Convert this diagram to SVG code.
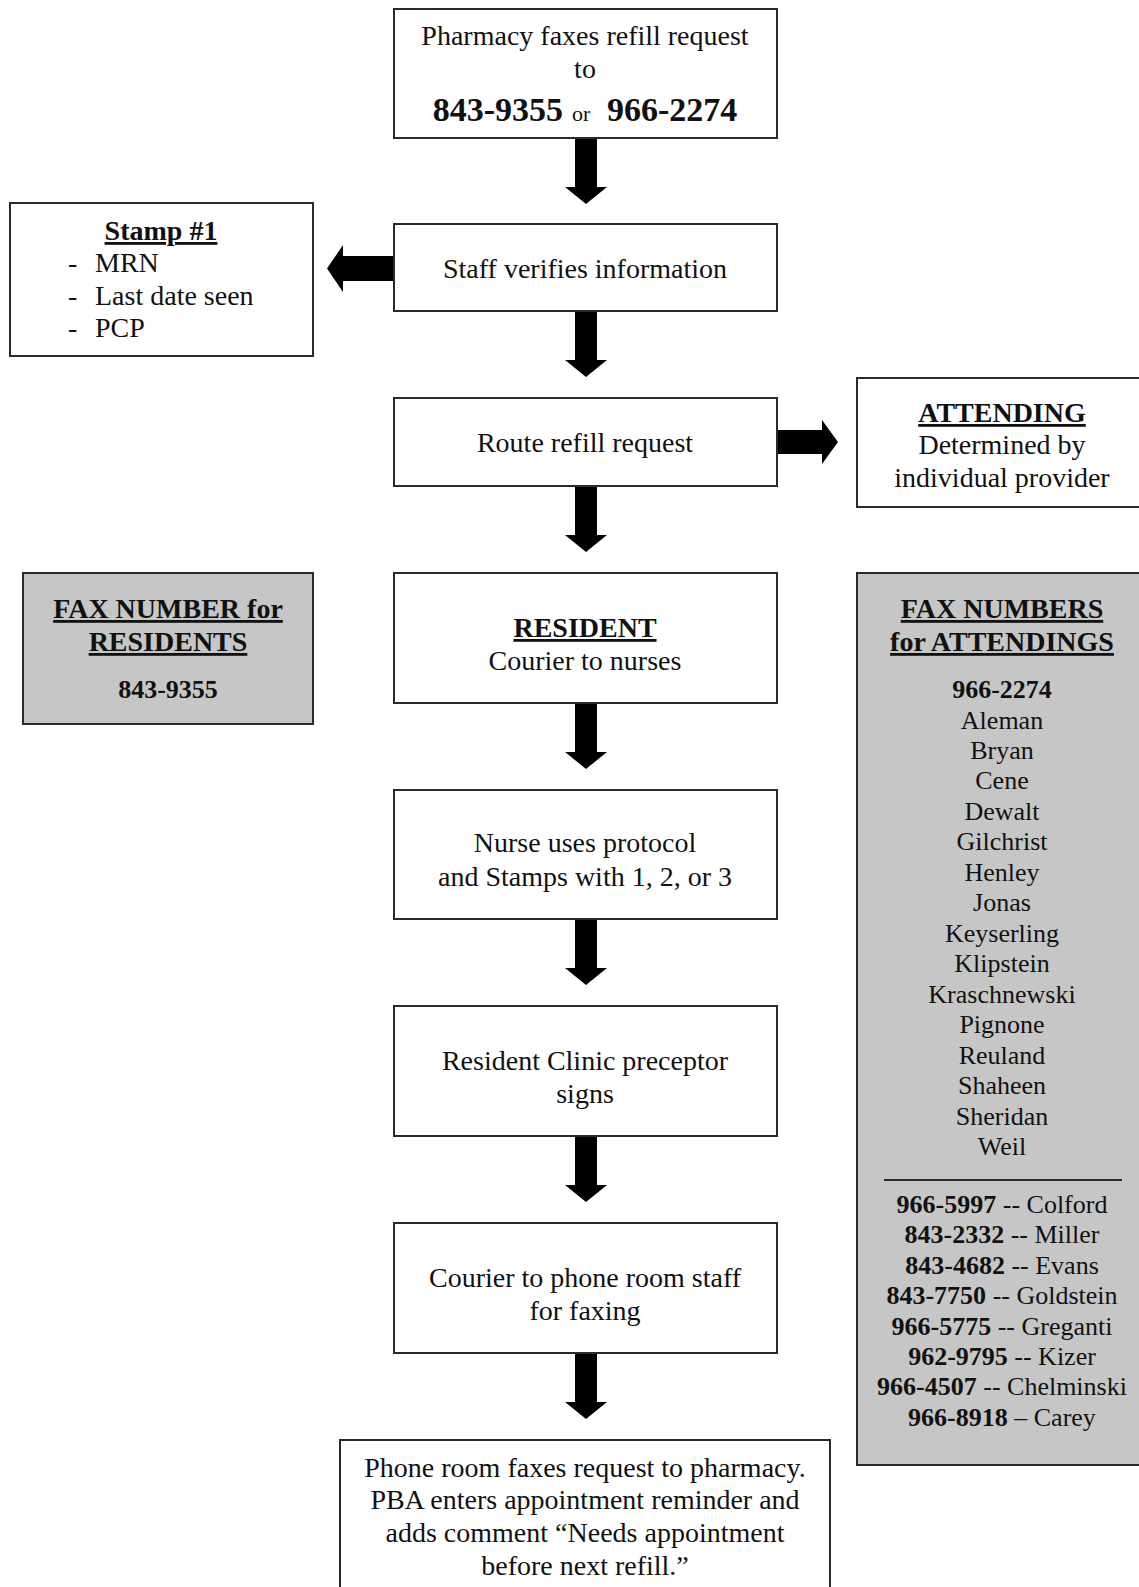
<svg xmlns="http://www.w3.org/2000/svg" width="1139" height="1587" viewBox="0 0 1139 1587">
<style>
  .box{fill:#ffffff;stroke:#2a2a2a;stroke-width:2}
  .gray{fill:#c6c6c6;stroke:#2a2a2a;stroke-width:2}
  text{font-family:"Liberation Serif","Times New Roman",serif;fill:#111;font-size:28px}
  .c{text-anchor:middle}
  .b{font-weight:bold}
  .u{text-decoration:underline}
  .s{font-size:26px}
  .big{font-size:34px}
  .sm{font-size:22px}
  .arrow{fill:#000}
</style>
<defs>
  <path id="down" d="M-11,0 H11 V49 H21 L0,66 L-21,49 H-11 Z"/>
</defs>
<rect width="1139" height="1587" fill="#ffffff"/>

<g id="connectors" class="arrow">
  <use href="#down" transform="translate(586,138)"/>
  <use href="#down" transform="translate(586,311)"/>
  <use href="#down" transform="translate(586,486)"/>
  <use href="#down" transform="translate(586,703)"/>
  <use href="#down" transform="translate(586,919)"/>
  <use href="#down" transform="translate(586,1136)"/>
  <use href="#down" transform="translate(586,1353)"/>
  <path d="M393,256 V281 H343 V292 L327,268.5 L343,245 V256 Z"/>
  <path d="M777,430 H822 V420 L838,442 L822,464 V454 H777 Z"/>
</g>

<g id="pharmacy">
  <rect class="box" x="394" y="9" width="383" height="129"/>
  <text class="c" x="585" y="45">Pharmacy faxes refill request</text>
  <text class="c" x="585" y="78">to</text>
  <text class="b big" x="563" y="121" text-anchor="end">843-9355</text>
  <text class="sm" x="572" y="121">or</text>
  <text class="b big" x="607" y="121">966-2274</text>
</g>

<g id="stamp">
  <rect class="box" x="10" y="203" width="303" height="153"/>
  <text class="c b u" x="161" y="240">Stamp #1</text>
  <text x="68" y="272">-</text><text x="95" y="272">MRN</text>
  <text x="68" y="305">-</text><text x="95" y="305">Last date seen</text>
  <text x="68" y="337">-</text><text x="95" y="337">PCP</text>
</g>

<g id="staff">
  <rect class="box" x="394" y="224" width="383" height="87"/>
  <text class="c" x="585" y="278">Staff verifies information</text>
</g>

<g id="route">
  <rect class="box" x="394" y="398" width="383" height="88"/>
  <text class="c" x="585" y="452">Route refill request</text>
</g>

<g id="attending">
  <rect class="box" x="857" y="378" width="295" height="129"/>
  <text class="c b u" x="1002" y="422">ATTENDING</text>
  <text class="c" x="1002" y="454">Determined by</text>
  <text class="c" x="1002" y="487">individual provider</text>
</g>

<g id="fax-residents">
  <rect class="gray" x="23" y="573" width="290" height="151"/>
  <text class="c b u" x="168" y="618">FAX NUMBER for</text>
  <text class="c b u" x="168" y="651">RESIDENTS</text>
  <text class="c b s" x="168" y="698">843-9355</text>
</g>

<g id="resident">
  <rect class="box" x="394" y="573" width="383" height="130"/>
  <text class="c b u" x="585" y="637">RESIDENT</text>
  <text class="c" x="585" y="670">Courier to nurses</text>
</g>

<g id="fax-attendings">
  <rect class="gray" x="857" y="573" width="295" height="892"/>
  <text class="c b u" x="1002" y="618">FAX NUMBERS</text>
  <text class="c b u" x="1002" y="651">for ATTENDINGS</text>
  <text class="c b s" x="1002" y="698">966-2274</text>
  <text class="c s" x="1002" y="728.5">Aleman</text>
  <text class="c s" x="1002" y="759">Bryan</text>
  <text class="c s" x="1002" y="789.4">Cene</text>
  <text class="c s" x="1002" y="819.9">Dewalt</text>
  <text class="c s" x="1002" y="850.4">Gilchrist</text>
  <text class="c s" x="1002" y="880.8">Henley</text>
  <text class="c s" x="1002" y="911.3">Jonas</text>
  <text class="c s" x="1002" y="941.8">Keyserling</text>
  <text class="c s" x="1002" y="972.2">Klipstein</text>
  <text class="c s" x="1002" y="1002.7">Kraschnewski</text>
  <text class="c s" x="1002" y="1033.2">Pignone</text>
  <text class="c s" x="1002" y="1063.6">Reuland</text>
  <text class="c s" x="1002" y="1094.1">Shaheen</text>
  <text class="c s" x="1002" y="1124.6">Sheridan</text>
  <text class="c s" x="1002" y="1155">Weil</text>
  <line x1="884" y1="1180" x2="1122" y2="1180" stroke="#2a2a2a" stroke-width="2"/>
  <text class="c s" x="1002" y="1213"><tspan class="b">966-5997</tspan> -- Colford</text>
  <text class="c s" x="1002" y="1243.4"><tspan class="b">843-2332</tspan> -- Miller</text>
  <text class="c s" x="1002" y="1273.8"><tspan class="b">843-4682</tspan> -- Evans</text>
  <text class="c s" x="1002" y="1304.2"><tspan class="b">843-7750</tspan> -- Goldstein</text>
  <text class="c s" x="1002" y="1334.6"><tspan class="b">966-5775</tspan> -- Greganti</text>
  <text class="c s" x="1002" y="1365"><tspan class="b">962-9795</tspan> -- Kizer</text>
  <text class="c s" x="1002" y="1395.4"><tspan class="b">966-4507</tspan> -- Chelminski</text>
  <text class="c s" x="1002" y="1425.8"><tspan class="b">966-8918</tspan> – Carey</text>
</g>

<g id="nurse">
  <rect class="box" x="394" y="790" width="383" height="129"/>
  <text class="c" x="585" y="852">Nurse uses protocol</text>
  <text class="c" x="585" y="886">and Stamps with 1, 2, or 3</text>
</g>

<g id="preceptor">
  <rect class="box" x="394" y="1006" width="383" height="130"/>
  <text class="c" x="585" y="1070">Resident Clinic preceptor</text>
  <text class="c" x="585" y="1103">signs</text>
</g>

<g id="courier">
  <rect class="box" x="394" y="1223" width="383" height="130"/>
  <text class="c" x="585" y="1287">Courier to phone room staff</text>
  <text class="c" x="585" y="1320">for faxing</text>
</g>

<g id="phone-room">
  <rect class="box" x="340" y="1440" width="490" height="170"/>
  <text class="c" x="585" y="1477">Phone room faxes request to pharmacy.</text>
  <text class="c" x="585" y="1509">PBA enters appointment reminder and</text>
  <text class="c" x="585" y="1542">adds comment “Needs appointment</text>
  <text class="c" x="585" y="1575">before next refill.”</text>
</g>
</svg>
